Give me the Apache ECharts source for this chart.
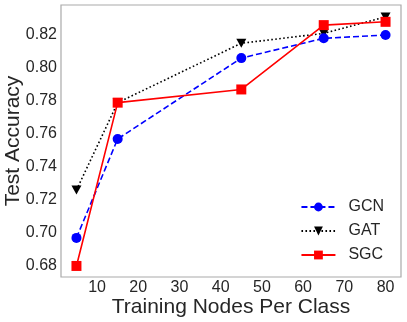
<!DOCTYPE html>
<html>
<head>
<meta charset="utf-8">
<script src="https://cdn.jsdelivr.net/npm/echarts@6/dist/echarts.min.js"></script>
<style>
  html, body { margin: 0; padding: 0; background: #fff; }
  #chart { width: 407px; height: 322px; }
</style>
</head>
<body>
<div id="chart"></div>
<script>
// data
var nodes = [5, 15, 45, 65, 80];
var gcnAcc = [0.697, 0.757, 0.806, 0.818, 0.820];
var gatAcc = [0.726, 0.779, 0.815, 0.821, 0.831];
var sgcAcc = [0.680, 0.779, 0.787, 0.826, 0.828];
var xTicks = [10, 20, 30, 40, 50, 60, 70, 80];
var yTicks = [0.68, 0.70, 0.72, 0.74, 0.76, 0.78, 0.80, 0.82];

function pairs(xs, ys) {
    var out = [];
    for (var i = 0; i < xs.length; i++) {
        out.push([xs[i], ys[i]]);
    }
    return out;
}

var textColor = '#262626';
var font = 'Liberation Sans';
var chart = echarts.init(document.getElementById('chart'), null, { renderer: 'canvas' });

var option = {
    animation: false,
    textStyle: { fontFamily: font },
    grid: {
        left: 61, right: 6, top: 5, bottom: 45,
        outerBoundsMode: 'none',
        containLabel: false,
        show: true,
        borderColor: '#aaaaaa',
        borderWidth: 1.2,
        backgroundColor: '#fff'
    },
    legend: {
        orient: 'vertical',
        right: 18,
        top: 194,
        itemWidth: 34,
        itemHeight: 11,
        itemGap: 8,
        textStyle: { fontSize: 16, color: textColor, fontFamily: font, padding: [0, 0, 0, 8] },
        data: ['GCN', 'GAT', 'SGC']
    },
    xAxis: {
        type: 'value',
        min: 1.25,
        max: 83.75,
        name: 'Training Nodes Per Class',
        nameLocation: 'middle',
        nameMoveOverlap: false,
        nameGap: 20,
        nameTextStyle: { fontSize: 21, color: textColor, fontFamily: font, verticalAlign: 'top' },
        axisLine: { show: false },
        axisTick: { show: false },
        splitLine: { show: false },
        axisLabel: {
            customValues: xTicks,
            fontSize: 16,
            color: textColor,
            margin: 3
        }
    },
    yAxis: {
        type: 'value',
        min: 0.6733,
        max: 0.8382,
        name: 'Test Accuracy',
        nameLocation: 'middle',
        nameMoveOverlap: false,
        nameGap: 37,
        nameTextStyle: { fontSize: 21, color: textColor, fontFamily: font },
        axisLine: { show: false },
        axisTick: { show: false },
        splitLine: { show: false },
        axisLabel: {
            customValues: yTicks,
            fontSize: 16,
            color: textColor,
            margin: 4,
            formatter: function(v) { return v.toFixed(2); }
        }
    },
    series: [{
        name: 'GCN',
        type: 'line',
        data: pairs(nodes, gcnAcc),
        color: '#0000ff',
        symbol: 'circle',
        symbolSize: 10,
        lineStyle: { width: 1.6, type: [6, 3] },
        z: 3
    }, {
        name: 'GAT',
        type: 'line',
        data: pairs(nodes, gatAcc),
        color: '#000000',
        symbol: 'path://M0,0 L10,0 L5,9 Z',
        symbolSize: [10, 9],
        lineStyle: { width: 1.6, type: [1.6, 2.4] },
        z: 2
    }, {
        name: 'SGC',
        type: 'line',
        data: pairs(nodes, sgcAcc),
        color: '#ff0000',
        symbol: 'rect',
        symbolSize: 10,
        lineStyle: { width: 1.6, type: 'solid' },
        z: 4
    }]
};
chart.setOption(option);
</script>
</body>
</html>
